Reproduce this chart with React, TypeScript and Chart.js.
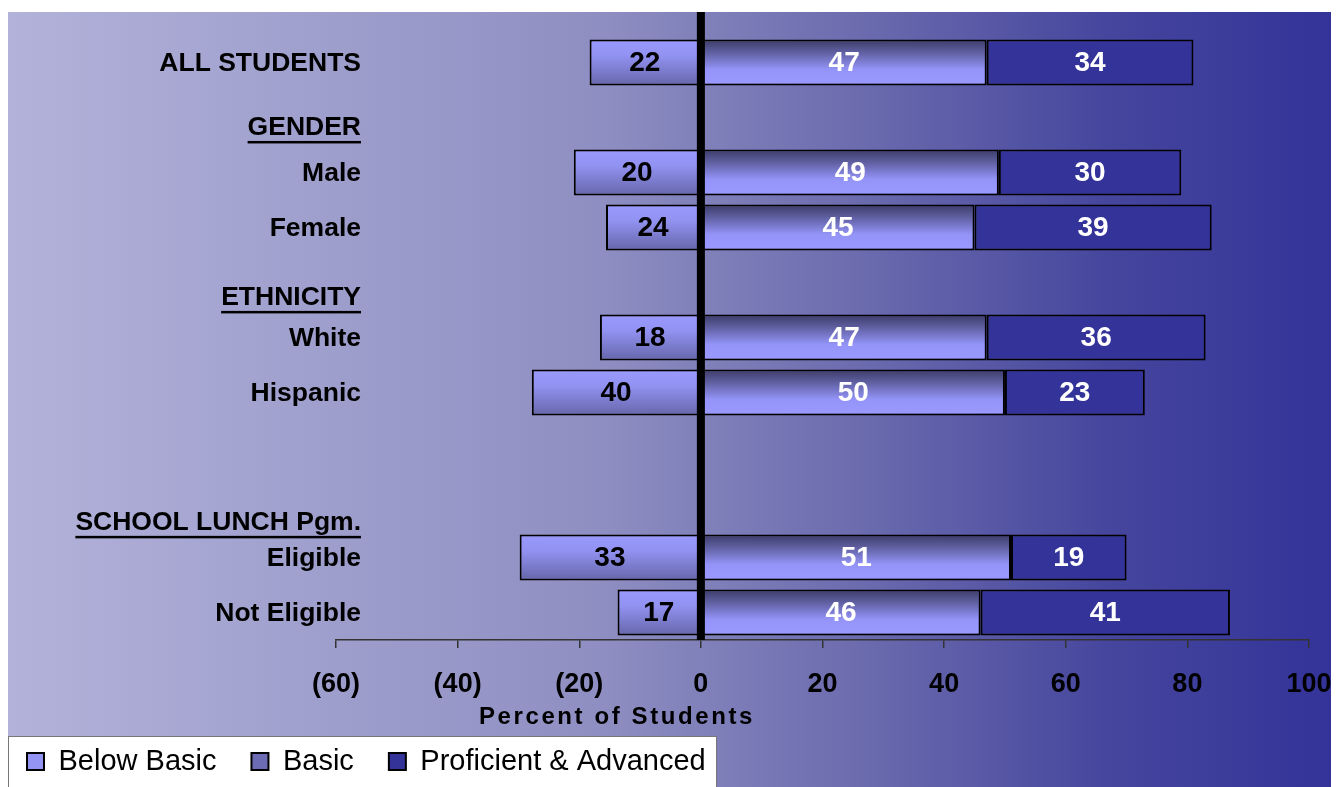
import { useEffect, useRef } from "react";
import { Chart, registerables } from "chart.js";

Chart.register(...registerables);

const FONT = "'Liberation Sans', Arial, Helvetica, sans-serif";

const categories = ["ALL STUDENTS", "", "Male", "Female", "", "White", "Hispanic", "", "", "Eligible", "Not Eligible"];
const groupHeaders = ["GENDER", "ETHNICITY", "SCHOOL LUNCH Pgm."];
const groupHeaderAt = [1.19, 4.28, 8.37];

const seriesNames = ["Below Basic", "Basic", "Proficient & Advanced"];
const belowBasicBars = [-18.3, null, -20.9, -15.6, null, -16.6, -27.8, null, null, -29.8, -13.7];
const belowBasicLabels = [22, null, 20, 24, null, 18, 40, null, null, 33, 17];
const basicValues = [47, null, 49, 45, null, 47, 50, null, null, 51, 46];
const proficientValues = [34, null, 30, 39, null, 36, 23, null, null, 19, 41];

const xMin = -60;
const xMax = 100;
const xStep = 20;
const axisTitle = "Percent of Students";

const BAR_PCT = 0.84;
const LEGEND_FILLS = ["#9494f4", "#6c6cb4", "#333399"];

function barGradient(c: any, stops: [number, string][], solid: string) {
  if (c.type !== "data") return solid;
  const chart = c.chart;
  const ys = chart.scales && chart.scales.y;
  if (!ys || !chart.chartArea) return solid;
  const center = ys.getPixelForValue(c.dataIndex);
  const slot = (chart.chartArea.bottom - chart.chartArea.top) / categories.length;
  const half = (slot * BAR_PCT) / 2;
  if (!isFinite(center)) return solid;
  const g = chart.ctx.createLinearGradient(0, center - half, 0, center + half);
  stops.forEach(([o, col]) => g.addColorStop(o, col));
  return g;
}

const backgroundPlugin = {
  id: "bgPlugin",
  beforeDraw(chart: any) {
    const { ctx, width, height } = chart;
    ctx.save();
    ctx.fillStyle = "#ffffff";
    ctx.fillRect(0, 0, width, height);
    const g = ctx.createLinearGradient(8, 0, 1331, 0);
    g.addColorStop(0, "#b2b2da");
    g.addColorStop(0.45, "#8e8ec2");
    g.addColorStop(0.65, "#6a6aae");
    g.addColorStop(0.83, "#46469e");
    g.addColorStop(1, "#333399");
    ctx.fillStyle = g;
    ctx.fillRect(8, 12, 1323, height - 12);
    // legend panel
    ctx.fillStyle = "#ffffff";
    ctx.fillRect(8, 736, 709, height - 736);
    ctx.strokeStyle = "#777777";
    ctx.lineWidth = 1;
    ctx.strokeRect(8.5, 736.5, 708, height - 736);
    ctx.restore();
  },
};

const overlayPlugin = {
  id: "overlayPlugin",
  afterDatasetsDraw(chart: any) {
    const { ctx, chartArea } = chart;
    const xs = chart.scales.x;
    const ys = chart.scales.y;
    ctx.save();
    // value labels
    ctx.font = `bold 28px ${FONT}`;
    ctx.textAlign = "center";
    ctx.textBaseline = "middle";
    chart.data.datasets.forEach((ds: any, di: number) => {
      const meta = chart.getDatasetMeta(di);
      meta.data.forEach((el: any, i: number) => {
        const v = ds.data[i];
        if (v === null || v === undefined) return;
        const text = di === 0 ? String(belowBasicLabels[i]) : String(v);
        ctx.fillStyle = di === 0 ? "#000000" : "#ffffff";
        ctx.fillText(text, (el.x + el.base) / 2, el.y + 1);
      });
    });
    // zero line
    const x0 = xs.getPixelForValue(0);
    ctx.fillStyle = "#000000";
    ctx.fillRect(x0 - 4, 12, 8, chartArea.bottom - 12);
    // category labels
    const xr = chartArea.left + 25;
    ctx.textAlign = "right";
    ctx.textBaseline = "middle";
    ctx.fillStyle = "#000000";
    ctx.font = `bold 26.5px ${FONT}`;
    categories.forEach((lab, i) => {
      if (!lab) return;
      ctx.fillText(lab, xr, ys.getPixelForValue(i) + 1);
    });
    // group headers
    groupHeaders.forEach((h, i) => {
      const y = ys.getPixelForValue(groupHeaderAt[i]);
      ctx.fillText(h, xr, y);
      const w = ctx.measureText(h).width;
      ctx.fillRect(xr - w, y + 13, w, 2.5);
    });
    ctx.restore();
  },
  afterDraw(chart: any) {
    const { ctx } = chart;
    ctx.save();
    ctx.font = `bold 24px ${FONT}`;
    (ctx as any).letterSpacing = "2.6px";
    ctx.textAlign = "center";
    ctx.textBaseline = "middle";
    ctx.fillStyle = "#000000";
    ctx.fillText(axisTitle, 617, 717);
    ctx.restore();
  },
};

export default function App() {
  const ref = useRef<HTMLCanvasElement | null>(null);
  useEffect(() => {
    if (!ref.current) return;
    const chart = new Chart(ref.current, {
      type: "bar",
      data: {
        labels: categories,
        datasets: [
          {
            label: seriesNames[0],
            data: belowBasicBars,
            backgroundColor: (c: any) =>
              barGradient(c, [[0, "#9a9aff"], [0.35, "#9292f2"], [1, "#6666aa"]], LEGEND_FILLS[0]),
            borderColor: "#000000",
            borderWidth: 2,
            borderSkipped: false,
          },
          {
            label: seriesNames[1],
            data: basicValues,
            backgroundColor: (c: any) =>
              barGradient(c, [[0, "#3b3b66"], [0.3, "#6262a6"], [0.65, "#9494f8"], [1, "#9999ff"]], LEGEND_FILLS[1]),
            borderColor: "#000000",
            borderWidth: 2,
            borderSkipped: false,
          },
          {
            label: seriesNames[2],
            data: proficientValues,
            backgroundColor: "#333399",
            borderColor: "#000000",
            borderWidth: 2,
            borderSkipped: false,
          },
        ] as any,
      },
      options: {
        indexAxis: "y",
        animation: false,
        responsive: true,
        maintainAspectRatio: false,
        devicePixelRatio: 1,
        layout: { padding: { top: 35, left: -8, right: 29, bottom: 1 } },
        datasets: { bar: { barPercentage: BAR_PCT, categoryPercentage: 1 } } as any,
        scales: {
          x: {
            stacked: true,
            min: xMin,
            max: xMax,
            afterFit: (s: any) => {
              s.height = 72;
              s.paddingLeft = 0;
              s.paddingRight = 0;
            },
            ticks: {
              stepSize: xStep,
              autoSkip: false,
              maxRotation: 0,
              padding: 20,
              color: "#000000",
              font: { family: FONT, size: 27, weight: "bold" },
              callback: (v: any) => (Number(v) < 0 ? `(${Math.abs(Number(v))})` : String(v)),
            },
            grid: {
              drawOnChartArea: false,
              drawTicks: true,
              tickLength: 8,
              color: "#333333",
              lineWidth: 1.5,
            },
            border: { display: true, color: "#333333", width: 1.5 },
          },
          y: {
            stacked: true,
            afterFit: (s: any) => {
              s.width = 344;
            },
            ticks: { display: false, autoSkip: false },
            grid: { display: false, drawTicks: false },
            border: { display: false },
          },
        },
        plugins: {
          legend: {
            position: "bottom",
            align: "start",
            labels: {
              color: "#000000",
              boxWidth: 17,
              boxHeight: 17,
              padding: 35,
              font: { family: FONT, size: 29 },
              generateLabels: (chart: any) => {
                const items = Chart.defaults.plugins.legend.labels.generateLabels(chart);
                return items.map((it: any, i: number) => ({
                  ...it,
                  fillStyle: LEGEND_FILLS[i],
                  strokeStyle: "#000000",
                  lineWidth: 2,
                }));
              },
            },
          },
          tooltip: { enabled: false },
          title: { display: false },
        },
      } as any,
      plugins: [backgroundPlugin, overlayPlugin],
    });
    return () => chart.destroy();
  }, []);
  return (
    <div style={{ position: "absolute", left: 0, top: 0, width: 1338, height: 787 }}>
      <canvas ref={ref} />
    </div>
  );
}
